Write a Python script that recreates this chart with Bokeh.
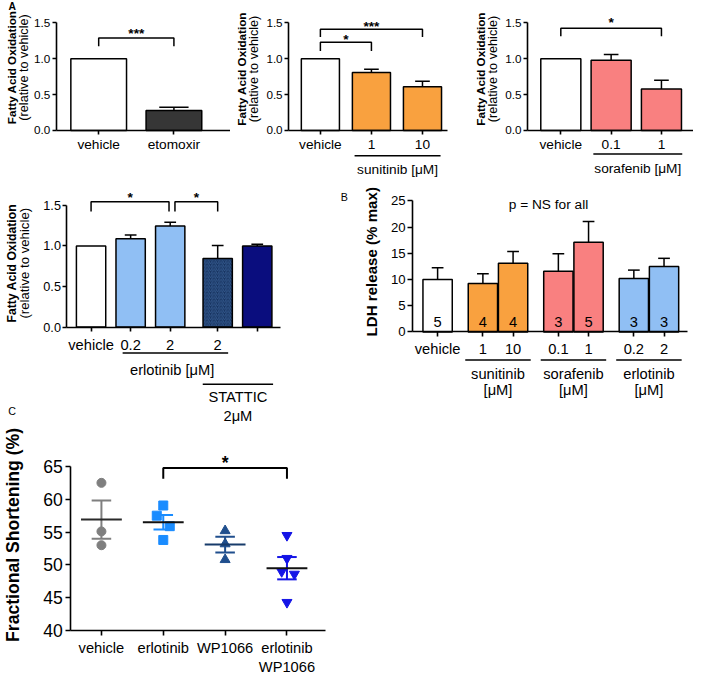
import math
from bokeh.plotting import figure
from bokeh.layouts import column, row
from bokeh.models import Range1d, FixedTicker, NumeralTickFormatter, ColumnDataSource
from bokeh.core.properties import value
from bokeh.embed import file_html
from bokeh.resources import INLINE

# ---------------- data ----------------
# Panel A, etomoxir
a1_labels = ["vehicle", "etomoxir"]
a1_vals = [1.0, 0.28]
a1_err = [0.0, 0.045]
# Panel A, sunitinib
a2_labels = ["vehicle", "1", "10"]
a2_vals = [1.0, 0.81, 0.61]
a2_err = [0.0, 0.045, 0.075]
# Panel A, sorafenib
a3_labels = ["vehicle", "0.1", "1"]
a3_vals = [1.0, 0.98, 0.58]
a3_err = [0.0, 0.08, 0.12]
# Panel A, erlotinib / STATTIC
a4_labels = ["vehicle", "0.2", "2", "2", ""]
a4_vals = [1.0, 1.09, 1.245, 0.845, 1.0]
a4_err = [0.0, 0.045, 0.048, 0.16, 0.02]
# Panel B, LDH release
b_labels = ["vehicle", "1", "10", "0.1", "1", "0.2", "2"]
b_vals = [10.0, 9.25, 13.1, 11.6, 17.1, 10.2, 12.5]
b_err = [2.25, 1.85, 2.25, 3.3, 4.0, 1.6, 1.55]
b_n = ["5", "4", "4", "3", "5", "3", "3"]
b_groups = ["sunitinib", "sorafenib", "erlotinib"]
# Panel C, fractional shortening
c_labels = ["vehicle", "erlotinib", "WP1066", "erlotinib\nWP1066"]
c_vehicle = [62.5, 55.1, 53.0]
c_erlotinib = [59.05, 57.5, 55.9, 53.8]
c_wp1066 = [55.2, 53.2, 50.8]
c_combo = [54.5, 51.0, 49.0, 48.6, 44.3]
c_mean = [56.9, 56.5, 53.1, 49.5]
c_sem = [2.9, 1.1, 1.2, 1.7]

# ---------------- styling / layout ----------------
FONT = "Liberation Sans"
S = 0.977
WHITE = "#FFFFFF"
DARK = "#363636"
ORANGE = "#F9A13F"
SALMON = "#F98080"
LBLUE = "#90BFF4"
HATCHB = "#17335F"
NAVY = "#0A0D7E"


class Map:
    def __init__(self, W, H, xa, xb, ya, yb):
        self.W, self.H = W, H
        self.Wr, self.Hr = W / S, H / S
        (v0, p0), (v1, p1) = xa, xb
        self.kx = (p1 - p0) / (v1 - v0)
        self.vx0, self.px0 = v0, p0
        (w0, q0), (w1, q1) = ya, yb
        self.ky = (q0 - q1) / (w1 - w0)
        self.vy0, self.qy0 = w0, q0

    def X(self, px):
        return self.vx0 + (px - self.px0) / self.kx

    def Y(self, py):
        return self.vy0 + (self.qy0 - py) / self.ky

    def dx(self, px):
        return px / self.kx


def fs(px):
    return f"{px * S:.1f}px"


def make_fig(m):
    p = figure(width=m.W, height=m.H,
               x_range=Range1d(m.X(0), m.X(m.Wr)),
               y_range=Range1d(m.Y(m.Hr), m.Y(0)),
               output_backend="svg", toolbar_location=None, tools="",
               title=None, min_border=0)
    p.outline_line_color = None
    p.xgrid.visible = False
    p.ygrid.visible = False
    return p


def style(ax, size, tick_out, standoff):
    ax.axis_line_color = "black"
    ax.axis_line_width = 1.6
    ax.major_tick_line_color = "black"
    ax.major_tick_line_width = 1.6
    ax.major_tick_in = 0
    ax.major_tick_out = tick_out
    ax.minor_tick_line_color = None
    ax.major_label_text_font = FONT
    ax.major_label_text_font_size = fs(size)
    ax.major_label_text_color = "black"
    ax.major_label_standoff = standoff


def set_axes(p, m, y_at, ybounds, yticks, yfmt, ysize, yout, ystand,
             x_from, x_to, xticks, xlabels, xsize, xout, xstand, x_cross):
    ya = p.yaxis[0]
    ya.fixed_location = m.X(y_at)
    ya.bounds = ybounds
    ya.ticker = FixedTicker(ticks=list(yticks))
    ya.formatter = NumeralTickFormatter(format=yfmt)
    style(ya, ysize, yout, ystand)
    xa = p.xaxis[0]
    xa.fixed_location = x_cross
    xa.bounds = (m.X(x_from), m.X(x_to))
    xa.ticker = FixedTicker(ticks=[float(t) for t in xticks])
    xa.major_label_overrides = {float(t): l for t, l in zip(xticks, xlabels)}
    style(xa, xsize, xout, xstand)


def bars(p, m, xs, vals, errs, colors, wpx, cappx, hatch=None):
    n = len(xs)
    src = ColumnDataSource(dict(x=list(xs), top=list(vals), color=list(colors),
                                hatch=list(hatch) if hatch else ["blank"] * n))
    p.vbar(x="x", top="top", bottom=0, width=m.dx(wpx), source=src,
           fill_color="color", line_color="black", line_width=1.5,
           hatch_pattern="hatch", hatch_color="#3B6399", hatch_scale=3.5,
           hatch_weight=0.8)
    ex = [x for x, e in zip(xs, errs) if e > 0]
    lo = [v for v, e in zip(vals, errs) if e > 0]
    hi = [v + e for v, e in zip(vals, errs) if e > 0]
    p.segment(x0=ex, y0=lo, x1=ex, y1=hi, line_color="black", line_width=1.5)
    h = m.dx(cappx) / 2
    p.segment(x0=[x - h for x in ex], y0=hi, x1=[x + h for x in ex], y1=hi,
              line_color="black", line_width=1.5)


def label(p, m, px, py, s, size, bold=False, angle=0.0, color="black"):
    p.text(x=[m.X(px)], y=[m.Y(py)], text=[s], text_font=value(FONT),
           text_font_size=fs(size), text_font_style="bold" if bold else "normal",
           angle=angle, text_align="center", text_baseline="middle",
           text_color=color)


def stars(p, m, x, yc_px, s, size):
    p.text(x=[x], y=[m.Y(yc_px + 0.15 * size)], text=[s], text_font=value(FONT),
           text_font_size=fs(size), text_font_style="bold", text_align="center",
           text_baseline="alphabetic", text_color="black")


def bracket(p, m, x0, x1, y_line, y_leg, lw=1.5):
    p.multi_line(xs=[[x0, x0, x1, x1]],
                 ys=[[m.Y(y_leg), m.Y(y_line), m.Y(y_line), m.Y(y_leg)]],
                 line_color="black", line_width=lw)


def hline(p, m, px0, px1, py, lw=1.5):
    p.segment(x0=[m.X(px0)], y0=[m.Y(py)], x1=[m.X(px1)], y1=[m.Y(py)],
              line_color="black", line_width=lw)


H1, H2, H3 = 187, 238, 251
VERT = math.pi / 2

# ---------- A1: etomoxir ----------
mA1 = Map(230, H1, (0, 100.5), (1, 177.5), (0, 133), (1.5, 23))
pA1 = make_fig(mA1)
xA1 = [0, 1]
bars(pA1, mA1, xA1, a1_vals, a1_err, [WHITE, DARK], 57, 30)
set_axes(pA1, mA1, 57, (0, 1.5), [0, 0.5, 1, 1.5], "0.0", 12, 4, 2,
         57, 236, xA1, a1_labels, 14, 4, 3, 0)
bracket(pA1, mA1, 0, 1, 38.3, 46.7)
stars(pA1, mA1, 0.5, 31.7, "***", 14)
label(pA1, mA1, 11, 68.5, "Fatty Acid Oxidation", 12, bold=True, angle=VERT)
label(pA1, mA1, 24.5, 68.5, "(relative to vehicle)", 13, angle=VERT)
label(pA1, mA1, 12, 6.5, "A", 10.5, bold=True)

# ---------- A2: sunitinib ----------
mA2 = Map(229, H1, (0, 92), (2, 196.5), (0, 133), (1.5, 23))
pA2 = make_fig(mA2)
xA2 = [0, 1, 2]
bars(pA2, mA2, xA2, a2_vals, a2_err, [WHITE, ORANGE, ORANGE], 39, 15)
set_axes(pA2, mA2, 59.5, (0, 1.5), [0, 0.5, 1, 1.5], "0.0", 12, 4, 2,
         59.5, 222, xA2, a2_labels, 14, 4, 3, 0)
hline(pA2, mA2, 127, 215, 159)
label(pA2, mA2, 171, 173, "sunitinib [\u03bcM]", 14)
bracket(pA2, mA2, 0, 1, 42.7, 51.7)
bracket(pA2, mA2, 0, 2, 29.3, 37.3)
stars(pA2, mA2, 0.5, 38.3, "*", 14)
stars(pA2, mA2, 1.0, 24.5, "***", 14)
label(pA2, mA2, 11.5, 70, "Fatty Acid Oxidation", 12, bold=True, angle=VERT)
label(pA2, mA2, 24, 70, "(relative to vehicle)", 13, angle=VERT)

# ---------- A3: sorafenib ----------
mA3 = Map(234, H1, (0, 103.7), (2, 206.7), (0, 133), (1.5, 23))
pA3 = make_fig(mA3)
xA3 = [0, 1, 2]
bars(pA3, mA3, xA3, a3_vals, a3_err, [WHITE, SALMON, SALMON], 41, 15)
set_axes(pA3, mA3, 69.5, (0, 1.5), [0, 0.5, 1, 1.5], "0.0", 12, 4, 2,
         69.5, 242, xA3, a3_labels, 14, 4, 3, 0)
hline(pA3, mA3, 137, 228, 157)
label(pA3, mA3, 182.5, 172, "sorafenib [\u03bcM]", 14)
bracket(pA3, mA3, 0, 2, 28.3, 36.7)
stars(pA3, mA3, 1.0, 20.7, "*", 14)
label(pA3, mA3, 22, 70, "Fatty Acid Oxidation", 12, bold=True, angle=VERT)
label(pA3, mA3, 34.5, 70, "(relative to vehicle)", 13, angle=VERT)

# ---------- A4: erlotinib / STATTIC ----------
mA4 = Map(293, H2, (0, 92.7), (1, 133.2), (0, 142.8), (1.5, 18.3))
pA4 = make_fig(mA4)
xA4 = [0, 1, 2, 3.2, 4.2]
bars(pA4, mA4, xA4, a4_vals, a4_err, [WHITE, LBLUE, LBLUE, HATCHB, NAVY], 30, 12,
     hatch=["blank", "blank", "blank", "right_diagonal_line", "blank"])
set_axes(pA4, mA4, 68, (0, 1.5), [0, 0.5, 1, 1.5], "0.0", 13, 4, 2,
         68, 287, xA4, a4_labels, 15, 4, 6, 0)
hline(pA4, mA4, 125, 233, 169.5)
label(pA4, mA4, 175.7, 186.5, "erlotinib [\u03bcM]", 15)
hline(pA4, mA4, 207, 279, 201.5)
label(pA4, mA4, 243, 214.5, "STATTIC", 15)
label(pA4, mA4, 243, 233.5, "2\u03bcM", 15)
bracket(pA4, mA4, 0, 1.97, 14.5, 24.5)
bracket(pA4, mA4, 2.12, 3.2, 14.5, 24.5)
stars(pA4, mA4, 0.985, 8.5, "*", 14)
stars(pA4, mA4, 2.66, 8.5, "*", 14)
label(pA4, mA4, 12, 77.5, "Fatty Acid Oxidation", 12.5, bold=True, angle=VERT)
label(pA4, mA4, 25, 77.5, "(relative to vehicle)", 13.5, angle=VERT)
label(pA4, mA4, 12, 228.5, "C", 11)

# ---------- B: LDH release ----------
mB = Map(400, H2, (0, 147.5), (1, 178.4), (0, 147.8), (25, 13.8))
pB = make_fig(mB)
xB = [0, 1.5, 2.5, 4.0, 5.0, 6.5, 7.5]
bars(pB, mB, xB, b_vals, b_err,
     [WHITE, ORANGE, ORANGE, SALMON, SALMON, LBLUE, LBLUE], 30, 12)
set_axes(pB, mB, 122, (0, 25), [0, 5, 10, 15, 20, 25], "0", 13.5, 5, 2,
         122, 403, xB, b_labels, 15, 5, 4, 0)
pB.text(x=xB, y=[mB.Y(137.7)] * len(xB), text=b_n, text_font=value(FONT),
        text_font_size=fs(15), text_align="center", text_baseline="middle",
        text_color="black")
for gi, name in enumerate(b_groups):
    gx = (xB[1 + 2 * gi] + xB[2 + 2 * gi]) / 2
    gpx = mB.px0 + (gx - mB.vx0) * mB.kx
    hline(pB, mB, gpx - 33.5, gpx + 33.5, 176.5)
    label(pB, mB, gpx, 190.5, name, 15)
    label(pB, mB, gpx, 207.5, "[\u03bcM]", 15)
label(pB, mB, 80, 76, "LDH release (% max)", 15.5, bold=True, angle=VERT)
label(pB, mB, 52, 9.5, "B", 11)
label(pB, mB, 261, 17.5, "p = NS for all", 14)

# ---------- C: fractional shortening ----------
mC = Map(352, H3, (0, 103.3), (1, 166.6), (40, 209.9), (65, 41.9))
pC = make_fig(mC)
xC = [0, 1, 2, 3]
set_axes(pC, mC, 72, (40, 65), [40, 45, 50, 55, 60, 65], "0", 18, 5, 3,
         72, 333, xC, c_labels, 15, 5, 4, 40)
c_groups = [c_vehicle, c_erlotinib, c_wp1066, c_combo]
c_colors = ["#7F7F7F", "#1A8CFF", "#1F4E8D", "#1414E6"]
c_mean_colors = ["#2A2A2A", "#111111", "#173B6A", "#111111"]
c_markers = ["circle", "square", "triangle", "inverted_triangle"]
c_sizes = [9, 9, 10, 10]
c_jit = [[0, 0, 0], [0, -0.105, 0.105, 0], [0, 0, 0], [0, 0, -0.085, 0.12, 0]]
for i in range(4):
    pC.scatter(x=[xC[i] + j for j in c_jit[i]], y=c_groups[i], marker=c_markers[i],
               size=c_sizes[i], fill_color=c_colors[i], line_color=c_colors[i])
hi = [mu + se for mu, se in zip(c_mean, c_sem)]
lo = [mu - se for mu, se in zip(c_mean, c_sem)]
cap = 0.158
half = 0.33
pC.segment(x0=xC, y0=lo, x1=xC, y1=hi, line_color=c_colors, line_width=2)
pC.segment(x0=[x - cap for x in xC], y0=hi, x1=[x + cap for x in xC], y1=hi,
           line_color=c_colors, line_width=2)
pC.segment(x0=[x - cap for x in xC], y0=lo, x1=[x + cap for x in xC], y1=lo,
           line_color=c_colors, line_width=2)
pC.segment(x0=[x - half for x in xC], y0=c_mean, x1=[x + half for x in xC], y1=c_mean,
           line_color=c_mean_colors, line_width=2)
bracket(pC, mC, 1, 3, 43.6, 54.6, lw=2)
stars(pC, mC, 2, 36, "*", 18)
label(pC, mC, 13, 112, "Fractional Shortening (%)", 18, bold=True, angle=VERT)

layout = column(row(pA1, pA2, pA3), row(pA4, pB), pC)
open("out.html", "w").write(file_html(layout, INLINE))
